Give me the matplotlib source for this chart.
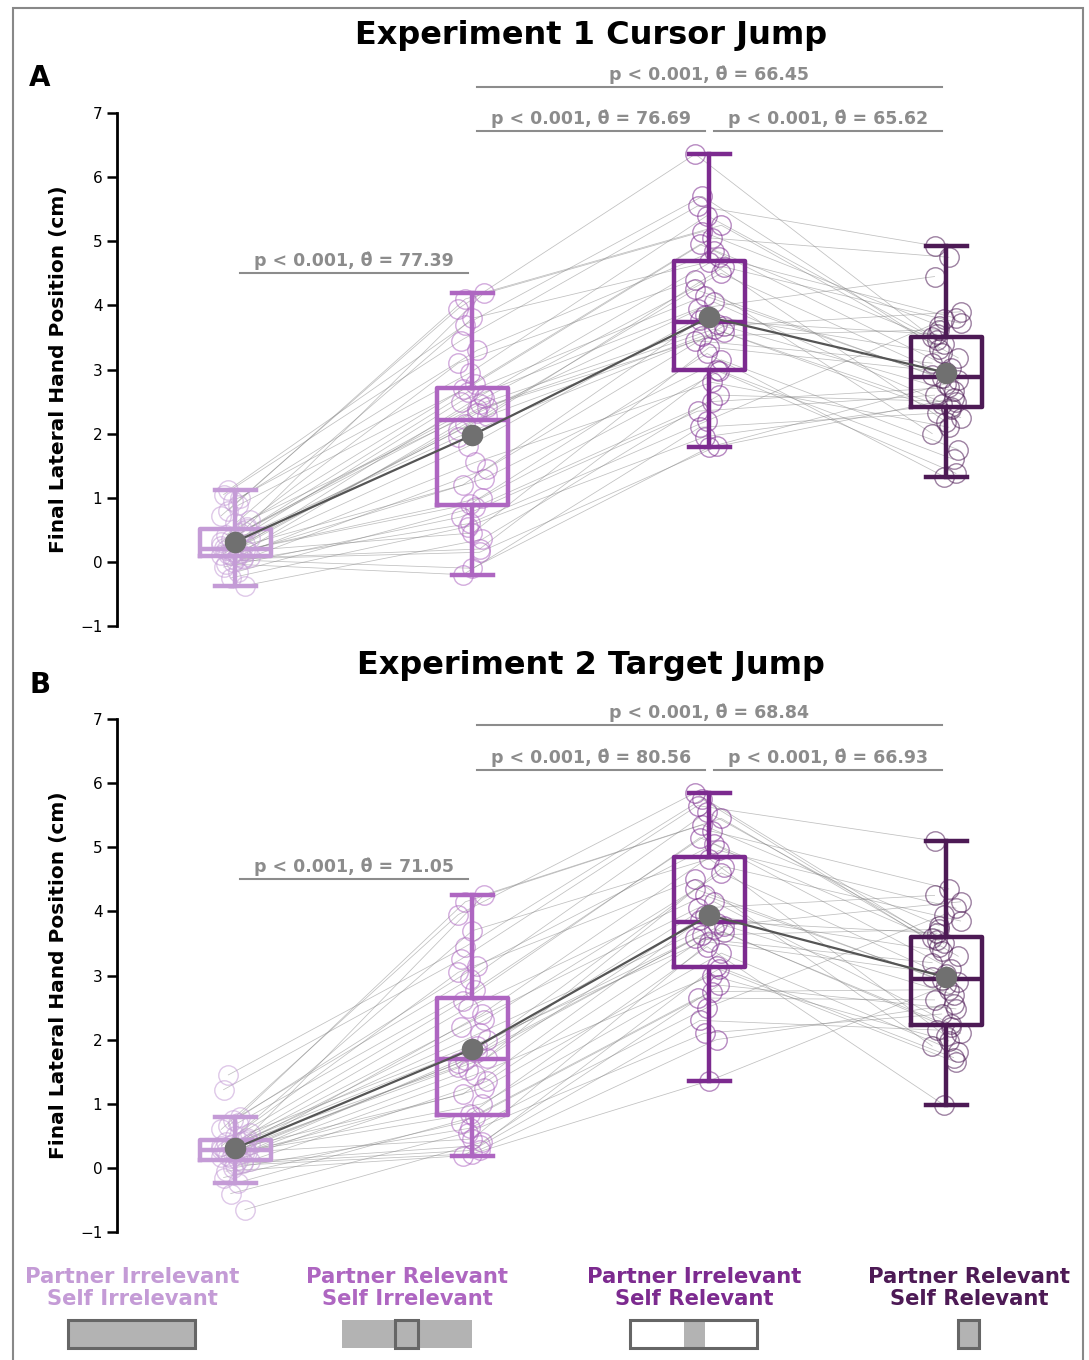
import numpy as np
import matplotlib
matplotlib.use("Agg")
import matplotlib.pyplot as plt
from matplotlib.patches import Rectangle

# condition labels / colours (left to right)
cond_labels = [
    "Partner Irrelevant\nSelf Irrelevant",
    "Partner Relevant\nSelf Irrelevant",
    "Partner Irrelevant\nSelf Relevant",
    "Partner Relevant\nSelf Relevant",
]
cond_colors = ["#c49bd6", "#ae66c1", "#7c2a8f", "#4d1a55"]

# --- Experiment 1 (cursor jump): per-condition values, sorted (cm) ---
exp1_c1 = [-0.37, -0.25, -0.15, -0.08, -0.03, 0.00, 0.03, 0.05, 0.06, 0.07,
           0.09, 0.10, 0.11, 0.13, 0.14, 0.15, 0.16, 0.17, 0.18, 0.19,
           0.21, 0.24, 0.28, 0.31, 0.35, 0.38, 0.42, 0.45, 0.48, 0.51,
           0.55, 0.60, 0.66, 0.72, 0.80, 0.88, 0.95, 1.00, 1.05, 1.12]
exp1_c2 = [-0.20, -0.10, 0.15, 0.20, 0.35, 0.45, 0.55, 0.60, 0.70, 0.85,
           0.90, 1.00, 1.20, 1.30, 1.45, 1.55, 1.80, 1.95, 2.05, 2.15,
           2.27, 2.32, 2.38, 2.42, 2.46, 2.50, 2.55, 2.60, 2.65, 2.69,
           2.78, 2.95, 3.10, 3.30, 3.45, 3.70, 3.80, 3.95, 4.10, 4.20]
exp1_c3 = [1.79, 1.80, 1.95, 2.10, 2.20, 2.35, 2.50, 2.60, 2.80, 2.97,
           3.00, 3.15, 3.25, 3.35, 3.45, 3.52, 3.58, 3.63, 3.68, 3.71,
           3.77, 3.85, 3.95, 4.05, 4.15, 4.25, 4.40, 4.50, 4.60, 4.68,
           4.75, 4.85, 4.95, 5.05, 5.15, 5.25, 5.40, 5.55, 5.70, 6.36]
exp1_c4 = [1.33, 1.38, 1.60, 1.75, 2.00, 2.10, 2.18, 2.25, 2.32, 2.38,
           2.42, 2.46, 2.50, 2.55, 2.60, 2.66, 2.72, 2.78, 2.83, 2.87,
           2.91, 2.96, 3.02, 3.10, 3.18, 3.25, 3.32, 3.40, 3.46, 3.50,
           3.55, 3.62, 3.68, 3.72, 3.78, 3.80, 3.90, 4.45, 4.75, 4.93]

# --- Experiment 2 (target jump) ---
exp2_c1 = [-0.65, -0.40, -0.23, -0.15, -0.05, 0.00, 0.04, 0.07, 0.09, 0.11,
           0.13, 0.15, 0.17, 0.19, 0.21, 0.23, 0.24, 0.25, 0.26, 0.27,
           0.29, 0.30, 0.32, 0.34, 0.36, 0.38, 0.40, 0.41, 0.42, 0.43,
           0.47, 0.50, 0.55, 0.60, 0.65, 0.70, 0.75, 0.80, 1.22, 1.45]
exp2_c2 = [0.19, 0.22, 0.28, 0.35, 0.40, 0.45, 0.55, 0.62, 0.70, 0.80,
           0.84, 1.00, 1.15, 1.25, 1.35, 1.45, 1.52, 1.58, 1.63, 1.68,
           1.72, 1.80, 1.90, 2.00, 2.10, 2.20, 2.30, 2.40, 2.50, 2.60,
           2.78, 2.95, 3.05, 3.15, 3.25, 3.45, 3.70, 3.95, 4.15, 4.26]
exp2_c3 = [1.36, 2.00, 2.10, 2.30, 2.50, 2.65, 2.75, 2.85, 3.00, 3.10,
           3.15, 3.35, 3.45, 3.52, 3.58, 3.63, 3.68, 3.73, 3.78, 3.82,
           3.86, 3.95, 4.05, 4.15, 4.25, 4.35, 4.50, 4.60, 4.70, 4.82,
           4.95, 5.05, 5.15, 5.25, 5.35, 5.45, 5.55, 5.65, 5.75, 5.85]
exp2_c4 = [0.98, 1.65, 1.72, 1.80, 1.90, 1.98, 2.05, 2.10, 2.15, 2.20,
           2.24, 2.40, 2.48, 2.55, 2.62, 2.70, 2.78, 2.85, 2.90, 2.93,
           2.97, 3.02, 3.10, 3.20, 3.30, 3.38, 3.45, 3.50, 3.55, 3.58,
           3.66, 3.72, 3.78, 3.85, 3.95, 4.05, 4.15, 4.25, 4.35, 5.10]

# rank of each participant within each condition (pairs the values up)
rank_c1 = [12, 35, 3, 27, 18, 8, 39, 22, 1, 30, 15, 25, 6, 33, 10, 20, 37, 4, 28, 13,
           0, 24, 17, 36, 9, 31, 21, 2, 38, 14, 26, 7, 34, 19, 11, 29, 5, 32, 16, 23]
rank_c2 = [18, 30, 8, 22, 12, 3, 35, 27, 6, 39, 10, 20, 1, 37, 15, 25, 33, 0, 24, 19,
           4, 28, 13, 31, 14, 36, 17, 9, 34, 21, 29, 2, 38, 11, 16, 26, 7, 23, 5, 32]
rank_c3 = [25, 33, 5, 17, 20, 10, 38, 30, 2, 35, 12, 28, 0, 39, 8, 22, 31, 3, 19, 15,
           7, 24, 11, 36, 18, 29, 14, 6, 37, 23, 32, 1, 34, 9, 21, 27, 4, 16, 13, 26]
rank_c4 = [20, 38, 14, 9, 30, 2, 26, 35, 11, 24, 0, 33, 17, 29, 5, 37, 22, 8, 15, 31,
           12, 19, 3, 27, 36, 6, 23, 16, 39, 10, 28, 13, 32, 1, 25, 18, 34, 7, 21, 4]

# pairwise comparisons: (cond a, cond b, bar height, theta-hat)
exp1_sig = [(0, 1, 4.50, "77.39"), (1, 2, 6.72, "76.69"),
            (2, 3, 6.72, "65.62"), (1, 3, 7.41, "66.45")]
exp2_sig = [(0, 1, 4.50, "71.05"), (1, 2, 6.20, "80.56"),
            (2, 3, 6.20, "66.93"), (1, 3, 6.90, "68.84")]


def by_participant(sorted_vals):
    ranks = [rank_c1, rank_c2, rank_c3, rank_c4]
    return [np.array(v)[np.array(r)] for v, r in zip(sorted_vals, ranks)]


def draw_panel(ax, data, sig):
    n = len(data[0])
    jit = (((np.arange(n) * 7) % 13) - 6) / 6 * 0.06
    xs = [i + jit for i in range(4)]

    # individual participant lines
    for p in range(n):
        ax.plot([x[p] for x in xs], [d[p] for d in data], color="grey",
                lw=0.55, alpha=0.5, zorder=1)
    for i in range(4):
        ax.plot(xs[i], data[i], "o", ms=14, mfc="none", mec=cond_colors[i],
                mew=1.0, alpha=0.55, zorder=2)

    bp = ax.boxplot(data, positions=range(4), widths=0.3, showfliers=False,
                    capwidths=0.17, patch_artist=False, zorder=3)
    for i in range(4):
        c = cond_colors[i]
        bp["boxes"][i].set(color=c, lw=3.2)
        bp["medians"][i].set(color=c, lw=3.2)
        for k in (2 * i, 2 * i + 1):
            bp["whiskers"][k].set(color=c, lw=3.2)
            bp["caps"][k].set(color=c, lw=3.2)

    means = [np.mean(d) for d in data]
    ax.plot(range(4), means, color="#555555", lw=1.6, zorder=4)
    ax.plot(range(4), means, "o", color="#707070", ms=14.5, zorder=5)

    for a, b, h, th in sig:
        ax.plot([a + 0.02, b - 0.02], [h, h], color="#8c8c8c", lw=1.5,
                clip_on=False)
        ax.text((a + b) / 2, h + 0.05, f"p < 0.001, \u03b8\u0302 = {th}",
                ha="center", va="bottom", fontsize=12.5, fontweight="bold",
                color="#8c8c8c")

    ax.set_xlim(-0.5, 3.5)
    ax.set_ylim(-1, 7)
    ax.set_yticks(range(-1, 8))
    for s in ("top", "right", "bottom"):
        ax.spines[s].set_visible(False)
    ax.spines["left"].set_linewidth(2)
    ax.spines["left"].set_bounds(-1, 7)
    ax.set_xticks([])
    ax.tick_params(axis="y", labelsize=11, length=7, width=1.8)
    ax.set_ylabel("Final Lateral Hand Position (cm)", fontsize=14.5,
                  fontweight="bold")
    ax.yaxis.set_label_coords(-0.052, 0.5)


fig = plt.figure(figsize=(10.89, 13.6), dpi=100)
axA = fig.add_axes([0.1074, 0.5397, 0.8705, 0.3772])
axB = fig.add_axes([0.1074, 0.0941, 0.8705, 0.3772])

draw_panel(axA, by_participant([exp1_c1, exp1_c2, exp1_c3, exp1_c4]), exp1_sig)
draw_panel(axB, by_participant([exp2_c1, exp2_c2, exp2_c3, exp2_c4]), exp2_sig)

fig.text(0.5427, 0.974, "Experiment 1 Cursor Jump", ha="center", va="center",
         fontsize=23, fontweight="bold")
fig.text(0.5427, 0.5103, "Experiment 2 Target Jump", ha="center", va="center",
         fontsize=23, fontweight="bold")
fig.text(0.0367, 0.9426, "A", ha="center", va="center", fontsize=20,
         fontweight="bold")
fig.text(0.0367, 0.4963, "B", ha="center", va="center", fontsize=20,
         fontweight="bold")

# bottom legend: condition names and icons
for xc, lab, c in zip([0.1212, 0.3737, 0.6373, 0.8898], cond_labels, cond_colors):
    fig.text(xc, 0.0529, lab, ha="center", va="center", fontsize=15.2,
             fontweight="bold", color=c, linespacing=1.15)

W, H = 1089.0, 1360.0
grey_fill, dark_edge = "#b3b3b3", "#666666"


def fig_rect(x0, x1, y0, y1, **kw):
    fig.add_artist(Rectangle((x0 / W, 1 - y1 / H), (x1 - x0) / W, (y1 - y0) / H,
                             transform=fig.transFigure, **kw))


fig_rect(68, 195, 1320, 1348, facecolor=grey_fill, edgecolor=dark_edge, lw=2.2)
fig_rect(342, 472, 1320, 1348, facecolor=grey_fill, edgecolor="none")
fig_rect(395, 418, 1320, 1348, facecolor=grey_fill, edgecolor=dark_edge, lw=2.2)
fig_rect(630, 757, 1320, 1348, facecolor="white", edgecolor="none")
fig_rect(684, 705, 1320, 1348, facecolor=grey_fill, edgecolor="none")
fig_rect(630, 757, 1320, 1348, facecolor="none", edgecolor=dark_edge, lw=2.2)
fig_rect(958, 979, 1320, 1348, facecolor=grey_fill, edgecolor=dark_edge, lw=2.2)

# outer frame
fig.add_artist(Rectangle((13 / W, -0.01), (1083 - 13) / W, 1 - 8 / H + 0.01,
                         transform=fig.transFigure, fill=False,
                         edgecolor="#888888", lw=1.5))

fig.savefig("out.png", dpi=100)
